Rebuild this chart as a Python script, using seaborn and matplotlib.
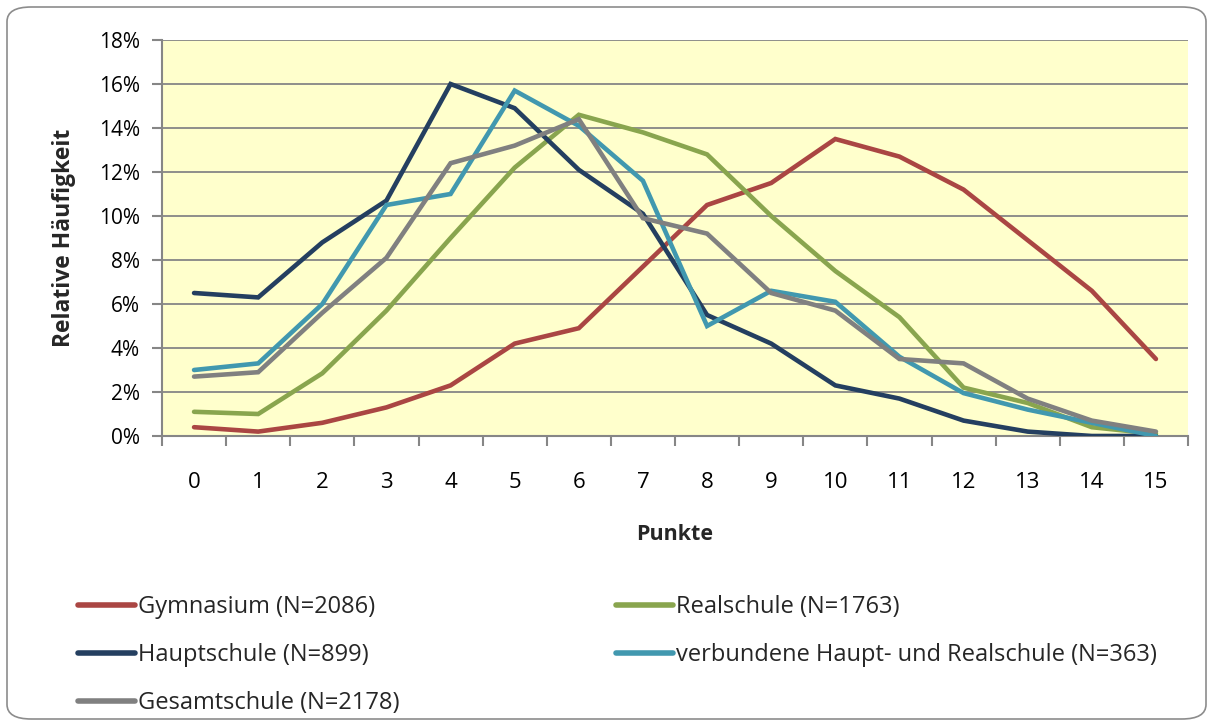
import numpy as np
import pandas as pd
import matplotlib
matplotlib.use("Agg")
import matplotlib.pyplot as plt
import seaborn as sns
from matplotlib.patches import FancyBboxPatch
from matplotlib.ticker import FuncFormatter, FixedLocator

points = list(range(16))
series_names = [
    "Gymnasium (N=2086)",
    "Hauptschule (N=899)",
    "Gesamtschule (N=2178)",
    "Realschule (N=1763)",
    "verbundene Haupt- und Realschule (N=363)",
]
gymnasium = [0.4, 0.2, 0.6, 1.3, 2.3, 4.2, 4.9, 7.7, 10.5, 11.5, 13.5, 12.7, 11.2, 8.9, 6.6, 3.5]
hauptschule = [6.5, 6.3, 8.8, 10.7, 16.0, 14.9, 12.1, 10.1, 5.5, 4.2, 2.3, 1.7, 0.7, 0.2, 0.0, 0.0]
gesamtschule = [2.7, 2.9, 5.6, 8.1, 12.4, 13.2, 14.4, 9.9, 9.2, 6.5, 5.7, 3.5, 3.3, 1.7, 0.7, 0.2]
realschule = [1.1, 1.0, 2.85, 5.7, 9.0, 12.2, 14.6, 13.8, 12.8, 10.0, 7.5, 5.4, 2.2, 1.5, 0.4, 0.1]
verbunden = [3.0, 3.3, 6.0, 10.5, 11.0, 15.7, 14.1, 11.6, 5.0, 6.6, 6.1, 3.6, 1.95, 1.2, 0.6, 0.0]
colors = ["#AA4643", "#243F60", "#808080", "#89A54E", "#4198AF"]
y_ticks = [0, 2, 4, 6, 8, 10, 12, 14, 16, 18]

all_vals = [gymnasium, hauptschule, gesamtschule, realschule, verbunden]
frames = []
for name, vals in zip(series_names, all_vals):
    frames.append(pd.DataFrame({"Punkte": points, "value": np.array(vals) / 100.0, "Schule": name}))
df = pd.concat(frames, ignore_index=True)

sns.set_style("white")
fam = ["Open Sans", "DejaVu Sans"]
plt.rcParams["font.family"] = fam

fig = plt.figure(figsize=(12.12, 7.27), dpi=100)
fig.patch.set_facecolor("white")
border = FancyBboxPatch((7 / 1212, 8 / 727), 1199 / 1212, 712 / 727,
                        boxstyle="round,pad=0,rounding_size=0.02",
                        transform=fig.transFigure, facecolor="none",
                        edgecolor="#8C8C8C", linewidth=1.2, zorder=0)
fig.patches.append(border)

ax = fig.add_axes([162 / 1212, 1 - 436 / 727, (1188 - 162) / 1212, (436 - 40) / 727])
ax.set_facecolor("#FFFFCC")

draw_order = [0, 3, 1, 4, 2]
pal = {series_names[i]: colors[i] for i in range(5)}
sns.lineplot(data=df, x="Punkte", y="value", hue="Schule", hue_order=series_names,
             palette=pal, linewidth=3.3, ax=ax, legend=False, sort=False)
for line in ax.lines:
    line.set_solid_capstyle("round")
    line.set_solid_joinstyle("miter")
for zi, idx in enumerate(draw_order):
    ax.lines[idx].set_zorder(3 + zi)

ax.set_xlim(-0.5, 15.5)
ax.set_ylim(0, 0.18)
ax.set_yticks([v / 100 for v in y_ticks])
ax.yaxis.set_major_formatter(FuncFormatter(lambda v, p: f"{v * 100:.0f}%"))
ax.set_xticks(points)
ax.set_xticklabels([str(p) for p in points])
ax.xaxis.set_minor_locator(FixedLocator(np.arange(-0.5, 16, 1)))
ax.tick_params(axis="x", which="major", length=0, pad=26, labelsize=16, labelcolor="black")
ax.tick_params(axis="x", which="minor", length=7, width=1.5, color="#868686", direction="out")
ax.tick_params(axis="y", which="major", length=7, width=1.5, color="#868686", direction="out",
               labelsize=15, pad=9, labelcolor="black")
ax.xaxis.set_ticks_position("bottom")
ax.yaxis.set_ticks_position("left")
ax.grid(axis="y", color="#868686", linewidth=1.3, zorder=1)
ax.grid(axis="x", visible=False)
ax.set_axisbelow(True)
for s in ["top", "right"]:
    ax.spines[s].set_visible(False)
for s in ["left", "bottom"]:
    ax.spines[s].set_color("#868686")
    ax.spines[s].set_linewidth(1.5)

ax.set_xlabel("Punkte", fontsize=15.5, fontweight="bold", labelpad=22)
ax.set_ylabel("Relative Häufigkeit", fontsize=16.5, fontweight="bold", labelpad=16)

handles = [plt.Line2D([0], [0], color=c, linewidth=4, solid_capstyle="round") for c in colors]
common = dict(frameon=False, fontsize=17, handlelength=2.4, handletextpad=0.15,
              labelspacing=1.02, borderpad=0, borderaxespad=0, loc="upper left")
leg1 = fig.legend(handles[:3], series_names[:3], bbox_to_anchor=(78 / 1212, 1 - 595 / 727), **common)
leg2 = fig.legend(handles[3:], series_names[3:], bbox_to_anchor=(616 / 1212, 1 - 595 / 727), **common)

fig.savefig("out.png", dpi=100)
